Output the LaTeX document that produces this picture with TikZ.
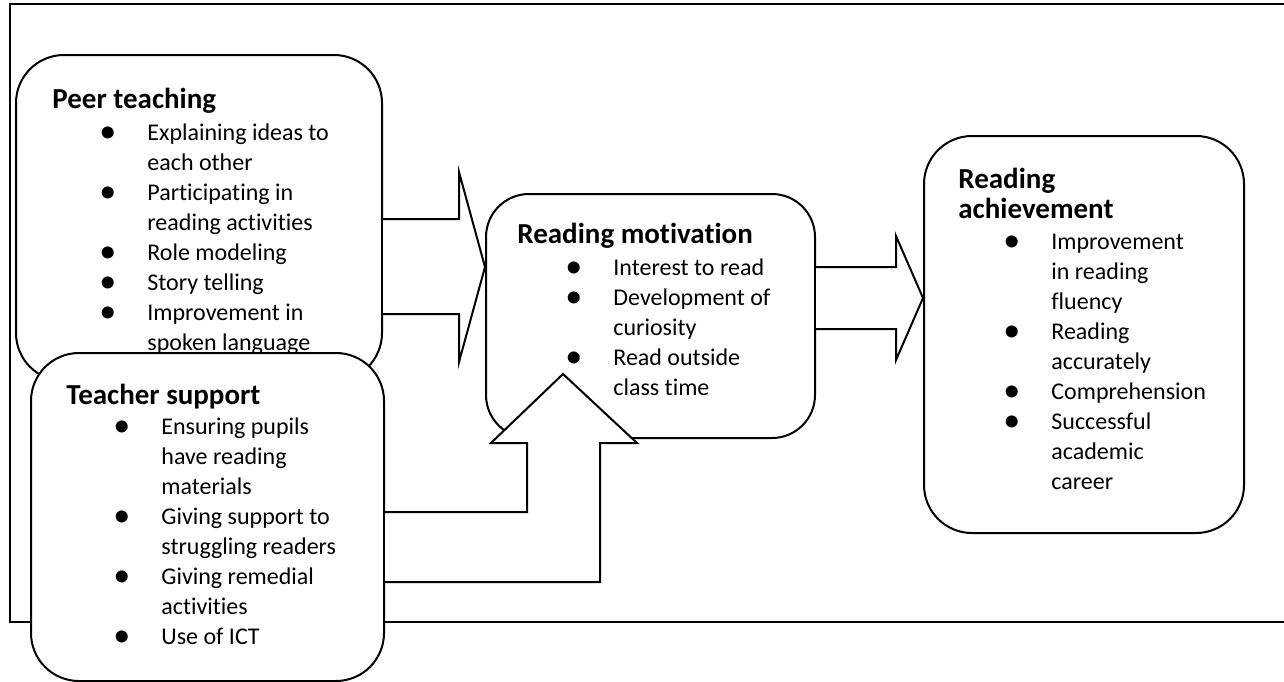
\documentclass[tikz,border=0pt]{standalone}
\usepackage{fontspec}
\setmainfont{Carlito}[Ligatures=CommonOff]
\usepackage{tikz}
\newcommand{\blt}{\raisebox{-1pt}{\fontsize{17}{15}\selectfont\textbullet}}
\newcommand{\hd}{\fontsize{14.5}{15}\selectfont\bfseries}
\newcommand{\bd}{\fontsize{12}{15}\selectfont}

\begin{document}
\begin{tikzpicture}[x=0.5pt,y=-0.5pt,
  box/.style={draw,line width=1pt,fill=white,rounded corners=24pt,anchor=north west,inner sep=0pt},
  txt/.style={anchor=base west,inner sep=0pt},
  blockarrow/.style={draw,line width=1pt,fill=white,line join=miter}]
\def\bcol{24pt}
\useasboundingbox (0,0) rectangle (1284,681);
\draw[line width=1.3pt] (1284,4) -| (10,622) -- (1284,622);

\node[box,minimum width=183pt,minimum height=163pt] (peer) at (15,54) {};
\node[txt,font=\hd] (peerhead) at (52,108) {Peer teaching};
\node[txt,font=\bd] (peerlist) at (99,140) {\begin{tabular}[t]{@{}p{\bcol}@{}l@{}}
\blt & Explaining ideas to\\
 & each other\\
\blt & Participating in\\
 & reading activities\\
\blt & Role modeling\\
\blt & Story telling\\
\blt & Improvement in\\
 & spoken language
\end{tabular}};

\node[box,minimum width=176.5pt,minimum height=164pt] (teacher) at (30,352) {};
\node[txt,font=\hd] (teacherhead) at (66,404) {Teacher support};
\node[txt,font=\bd] (teacherlist) at (113,434) {\begin{tabular}[t]{@{}p{\bcol}@{}l@{}}
\blt & Ensuring pupils\\
 & have reading\\
 & materials\\
\blt & Giving support to\\
 & struggling readers\\
\blt & Giving remedial\\
 & activities\\
\blt & Use of ICT
\end{tabular}};

\node[box,rounded corners=21.5pt,minimum width=164.5pt,minimum height=122pt] (motiv) at (485,193) {};
\node[txt,font=\hd] (motivhead) at (517,243) {Reading motivation};
\node[txt,font=\bd] (motivlist) at (565,275) {\begin{tabular}[t]{@{}p{\bcol}@{}l@{}}
\blt & Interest to read\\
\blt & Development of\\
 & curiosity\\
\blt & Read outside\\
 & class time
\end{tabular}};

\node[box,minimum width=160pt,minimum height=198.5pt] (achieve) at (923,135) {};
\node[txt,font=\hd] (achievehead) at (958,188) {\begin{tabular}[t]{@{}l@{}}
Reading\\
achievement
\end{tabular}};
\node[txt,font=\bd] (achievelist) at (1003,249) {\begin{tabular}[t]{@{}p{\bcol}@{}l@{}}
\blt & Improvement\\
 & in reading\\
 & fluency\\
\blt & Reading\\
 & accurately\\
\blt & Comprehension\\
\blt & Successful\\
 & academic\\
 & career
\end{tabular}};

\draw[blockarrow] (peer.east |- 0,219) -- (459,219) -- (459,172) -- (motiv.west |- 0,267) -- (459,362) -- (459,314) -- (peer.east |- 0,314);
\draw[blockarrow] (motiv.east |- 0,267) -- (896,267) -- (896,236) -- (achieve.west |- 0,298) -- (896,360) -- (896,329) -- (motiv.east |- 0,329);
\draw[blockarrow] (teacher.east |- 0,512) -- (527,512) -- (527,443) -- (491,443) -- (563,374) -- (637,443) -- (600,443) -- (600,582) -- (teacher.east |- 0,582);
\end{tikzpicture}
\end{document}
